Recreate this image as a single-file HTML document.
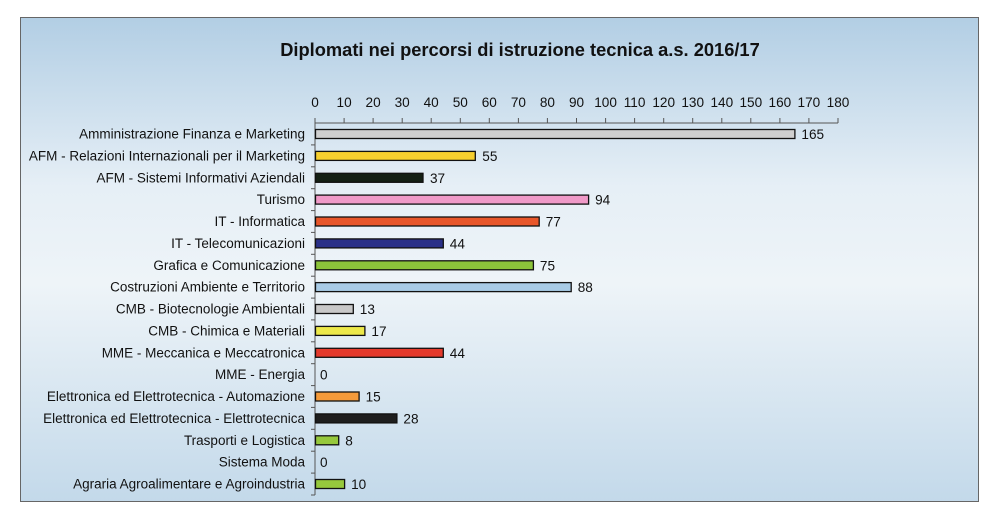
<!DOCTYPE html>
<html><head><meta charset="utf-8"><style>
html,body{margin:0;padding:0;background:#fff;}
svg{display:block;font-family:"Liberation Sans",Arial,sans-serif;}
</style></head><body>
<svg width="1000" height="519" viewBox="0 0 1000 519" xmlns="http://www.w3.org/2000/svg">
<defs>
<linearGradient id="bg" x1="0" y1="0" x2="0" y2="1">
<stop offset="0" stop-color="#b2cee4"/>
<stop offset="0.35" stop-color="#e6eff6"/>
<stop offset="0.55" stop-color="#eef4f8"/>
<stop offset="1" stop-color="#c3d9ea"/>
</linearGradient>
</defs>
<rect x="20.5" y="17.5" width="958" height="484" fill="url(#bg)" stroke="#666" stroke-width="1"/>
<text x="520" y="56" text-anchor="middle" font-size="18.3" font-weight="bold" fill="#111">Diplomati nei percorsi di istruzione tecnica a.s. 2016/17</text>
<g stroke="#555" stroke-width="1" fill="none">
<line x1="315" y1="123" x2="838" y2="123"/>
<line x1="315" y1="123" x2="315" y2="495"/>
<line x1="315" y1="118" x2="315" y2="123"/><line x1="344.1" y1="118" x2="344.1" y2="123"/><line x1="373.1" y1="118" x2="373.1" y2="123"/><line x1="402.2" y1="118" x2="402.2" y2="123"/><line x1="431.2" y1="118" x2="431.2" y2="123"/><line x1="460.3" y1="118" x2="460.3" y2="123"/><line x1="489.3" y1="118" x2="489.3" y2="123"/><line x1="518.4" y1="118" x2="518.4" y2="123"/><line x1="547.4" y1="118" x2="547.4" y2="123"/><line x1="576.5" y1="118" x2="576.5" y2="123"/><line x1="605.6" y1="118" x2="605.6" y2="123"/><line x1="634.6" y1="118" x2="634.6" y2="123"/><line x1="663.7" y1="118" x2="663.7" y2="123"/><line x1="692.7" y1="118" x2="692.7" y2="123"/><line x1="721.8" y1="118" x2="721.8" y2="123"/><line x1="750.8" y1="118" x2="750.8" y2="123"/><line x1="779.9" y1="118" x2="779.9" y2="123"/><line x1="808.9" y1="118" x2="808.9" y2="123"/><line x1="838" y1="118" x2="838" y2="123"/>
<line x1="311" y1="144.9" x2="315" y2="144.9"/><line x1="311" y1="166.8" x2="315" y2="166.8"/><line x1="311" y1="188.7" x2="315" y2="188.7"/><line x1="311" y1="210.6" x2="315" y2="210.6"/><line x1="311" y1="232.4" x2="315" y2="232.4"/><line x1="311" y1="254.3" x2="315" y2="254.3"/><line x1="311" y1="276.2" x2="315" y2="276.2"/><line x1="311" y1="298.1" x2="315" y2="298.1"/><line x1="311" y1="319.9" x2="315" y2="319.9"/><line x1="311" y1="341.8" x2="315" y2="341.8"/><line x1="311" y1="363.7" x2="315" y2="363.7"/><line x1="311" y1="385.6" x2="315" y2="385.6"/><line x1="311" y1="407.4" x2="315" y2="407.4"/><line x1="311" y1="429.3" x2="315" y2="429.3"/><line x1="311" y1="451.2" x2="315" y2="451.2"/><line x1="311" y1="473.1" x2="315" y2="473.1"/><line x1="311" y1="495" x2="315" y2="495"/>
</g>
<g font-size="13.6" fill="#111" text-anchor="middle">
<text x="315" y="107">0</text><text x="344.1" y="107">10</text><text x="373.1" y="107">20</text><text x="402.2" y="107">30</text><text x="431.2" y="107">40</text><text x="460.3" y="107">50</text><text x="489.3" y="107">60</text><text x="518.4" y="107">70</text><text x="547.4" y="107">80</text><text x="576.5" y="107">90</text><text x="605.6" y="107">100</text><text x="634.6" y="107">110</text><text x="663.7" y="107">120</text><text x="692.7" y="107">130</text><text x="721.8" y="107">140</text><text x="750.8" y="107">150</text><text x="779.9" y="107">160</text><text x="808.9" y="107">170</text><text x="838" y="107">180</text>
</g>
<g font-size="13.5" fill="#111" text-anchor="end">
<text x="305" y="138.5">Amministrazione Finanza e Marketing</text>
<text x="305" y="160.4">AFM - Relazioni Internazionali per il Marketing</text>
<text x="305" y="182.3">AFM - Sistemi Informativi Aziendali</text>
<text x="305" y="204.1">Turismo</text>
<text x="305" y="226">IT - Informatica</text>
<text x="305" y="247.9">IT - Telecomunicazioni</text>
<text x="305" y="269.8">Grafica e Comunicazione</text>
<text x="305" y="291.6">Costruzioni Ambiente e Territorio</text>
<text x="305" y="313.5">CMB - Biotecnologie Ambientali</text>
<text x="305" y="335.4">CMB - Chimica e Materiali</text>
<text x="305" y="357.3">MME - Meccanica e Meccatronica</text>
<text x="305" y="379.1">MME - Energia</text>
<text x="305" y="401">Elettronica ed Elettrotecnica - Automazione</text>
<text x="305" y="422.9">Elettronica ed Elettrotecnica - Elettrotecnica</text>
<text x="305" y="444.8">Trasporti e Logistica</text>
<text x="305" y="466.6">Sistema Moda</text>
<text x="305" y="488.5">Agraria Agroalimentare e Agroindustria</text>
</g>
<g stroke="#111" stroke-width="1.3">
<rect x="315.5" y="129.5" width="479.4" height="9" fill="#cfcfcf"/>
<rect x="315.5" y="151.4" width="159.8" height="9" fill="#f7cf2e"/>
<rect x="315.5" y="173.3" width="107.5" height="9" fill="#142014"/>
<rect x="315.5" y="195.1" width="273.1" height="9" fill="#f09ac8"/>
<rect x="315.5" y="217" width="223.7" height="9" fill="#e8562a"/>
<rect x="315.5" y="238.9" width="127.8" height="9" fill="#2a3088"/>
<rect x="315.5" y="260.8" width="217.9" height="9" fill="#8cc43a"/>
<rect x="315.5" y="282.6" width="255.7" height="9" fill="#a8cbe6"/>
<rect x="315.5" y="304.5" width="37.8" height="9" fill="#c8c8c8"/>
<rect x="315.5" y="326.4" width="49.4" height="9" fill="#ece84a"/>
<rect x="315.5" y="348.3" width="127.8" height="9" fill="#e43a2c"/>
<rect x="315.5" y="392" width="43.6" height="9" fill="#f49a3a"/>
<rect x="315.5" y="413.9" width="81.4" height="9" fill="#1e1e1e"/>
<rect x="315.5" y="435.8" width="23.2" height="9" fill="#96c83c"/>
<rect x="315.5" y="479.5" width="29.1" height="9" fill="#96c83c"/>
</g>
<g font-size="13.6" fill="#111">
<text x="801.4" y="139">165</text>
<text x="482.3" y="160.9">55</text>
<text x="430" y="182.8">37</text>
<text x="595.1" y="204.6">94</text>
<text x="545.7" y="226.5">77</text>
<text x="449.8" y="248.4">44</text>
<text x="539.9" y="270.3">75</text>
<text x="577.7" y="292.1">88</text>
<text x="359.8" y="314">13</text>
<text x="371.4" y="335.9">17</text>
<text x="449.8" y="357.8">44</text>
<text x="320" y="379.6">0</text>
<text x="365.6" y="401.5">15</text>
<text x="403.4" y="423.4">28</text>
<text x="345.2" y="445.3">8</text>
<text x="320" y="467.1">0</text>
<text x="351.1" y="489">10</text>
</g>
</svg>
</body></html>
